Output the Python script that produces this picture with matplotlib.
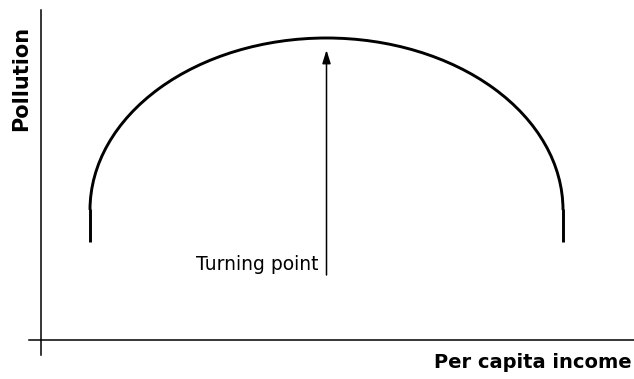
import matplotlib.pyplot as plt
from matplotlib.patches import Arc

# chart units: origin where the axes cross, 1 unit ~ 1 pixel
curve_left = 49.0       # income where the curve starts
curve_right = 522.0     # income where the curve ends
curve_end = 98.0        # pollution at both ends
curve_shoulder = 130.0  # where the vertical ends turn into the arc
curve_peak = 302.0      # pollution at the turning point
turning_income = (curve_left + curve_right) / 2
arrow_start = 65.0
arrow_tip = 290.0

fig = plt.figure(figsize=(6.34, 3.79), dpi=100)
ax = fig.add_axes([0, 0, 1, 1])
ax.set_xlim(-41, 593)
ax.set_ylim(-39, 340)
ax.axis('off')

# axes lines
ax.plot([0, 0], [-15, 330], color='black', lw=1.1)
ax.plot([-12, 593], [0, 0], color='black', lw=1.1)

# the inverted U
arc = Arc((turning_income, curve_shoulder),
          width=curve_right - curve_left,
          height=2 * (curve_peak - curve_shoulder),
          theta1=0, theta2=180, color='black', lw=2.1)
ax.add_patch(arc)
ax.plot([curve_left, curve_left], [curve_end, curve_shoulder + 1], color='black', lw=2.1, solid_capstyle='butt')
ax.plot([curve_right, curve_right], [curve_end, curve_shoulder + 1], color='black', lw=2.1, solid_capstyle='butt')

# turning point arrow
ax.annotate('', xy=(turning_income, arrow_tip), xytext=(turning_income, arrow_start),
            arrowprops=dict(arrowstyle='-|>,head_width=0.25,head_length=0.8', color='black',
                            lw=1.1, mutation_scale=10, shrinkA=0, shrinkB=0))
ax.text(turning_income - 8, 76, 'Turning point', ha='right', va='center', fontsize=13.5)

ax.text(-20, 262, 'Pollution', rotation=90, ha='center', va='center',
        fontsize=15, fontweight='bold')
ax.text(492, -22, 'Per capita income', ha='center', va='center',
        fontsize=14, fontweight='bold')

fig.savefig('out.png', dpi=100)
